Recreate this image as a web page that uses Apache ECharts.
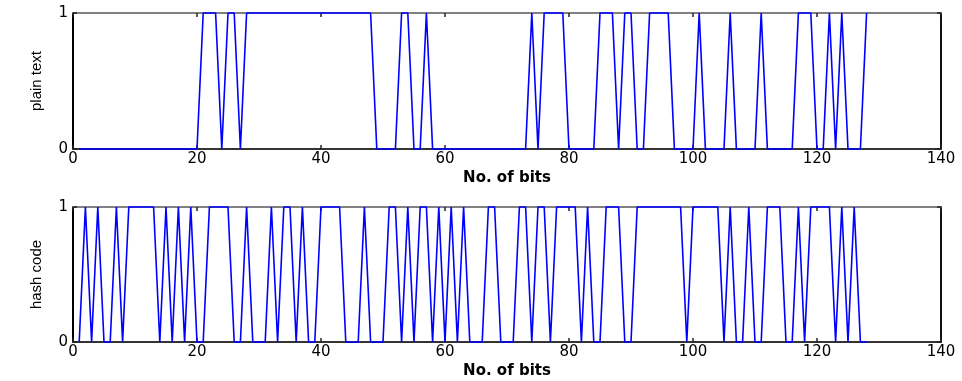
<!DOCTYPE html>
<html>
<head>
<meta charset="utf-8">
<script src="https://cdn.jsdelivr.net/npm/echarts@6/dist/echarts.min.js"></script>
<style>
  html, body { margin: 0; padding: 0; background: #ffffff; }
  #chart { width: 962px; height: 381px; }
</style>
</head>
<body>
<div id="chart"></div>
<script>
// Bit values, index 1..128
const plainTextBits = [
  0,0,0,0,0,0,0,0,
  0,0,0,0,0,0,0,0,
  0,0,0,0,1,1,1,0,
  1,1,0,1,1,1,1,1,
  1,1,1,1,1,1,1,1,
  1,1,1,1,1,1,1,1,
  0,0,0,0,1,1,0,0,
  1,0,0,0,0,0,0,0,
  0,0,0,0,0,0,0,0,
  0,1,0,1,1,1,1,0,
  0,0,0,0,1,1,1,0,
  1,1,0,0,1,1,1,1,
  0,0,0,0,1,0,0,0,
  0,1,0,0,0,0,1,0,
  0,0,0,0,1,1,1,0,
  0,1,0,1,0,0,0,1
];
const hashCodeBits = [
  0,1,0,1,0,0,1,0,
  1,1,1,1,1,0,1,0,
  1,0,1,0,0,1,1,1,
  1,0,0,1,0,0,0,1,
  0,1,1,0,1,0,0,1,
  1,1,1,0,0,0,1,0,
  0,0,1,1,0,1,0,1,
  1,0,1,0,1,0,1,0,
  0,0,1,1,0,0,0,1,
  1,0,1,1,0,1,1,1,
  1,0,1,0,0,1,1,1,
  0,0,1,1,1,1,1,1,
  1,1,0,1,1,1,1,1,
  0,1,0,0,1,0,0,1,
  1,1,0,0,1,0,1,1,
  1,1,0,1,0,1,0,0
];
const xTicks = [0, 20, 40, 60, 80, 100, 120, 140];
const yTicks = [0, 1];
const xLabel = 'No. of bits';
const yLabels = ['plain text', 'hash code'];

const toPairs = arr => arr.map((v, i) => [i + 1, v]);

const tickFont = { fontFamily: 'DejaVu Sans', fontSize: 15, color: '#000' };

function xAxes(gridIndex) {
  return [
    {
      gridIndex, type: 'value', position: 'bottom',
      min: xTicks[0], max: xTicks[xTicks.length - 1], interval: 20,
      axisLine: { onZero: false, lineStyle: { color: '#333', width: 2 } },
      axisTick: { inside: true, length: 4, lineStyle: { color: '#222', width: 1.5 } },
      axisLabel: Object.assign({ margin: 3 }, tickFont),
      splitLine: { show: false },
      name: xLabel, nameLocation: 'middle', nameGap: 22,
      nameTextStyle: { fontFamily: 'DejaVu Sans', fontSize: 15, fontWeight: 'bold', color: '#000', verticalAlign: 'top' }
    },
    {
      gridIndex, type: 'value', position: 'top',
      min: xTicks[0], max: xTicks[xTicks.length - 1], interval: 20,
      axisLine: { onZero: false, lineStyle: { color: '#808080', width: 2 } },
      axisTick: { inside: true, length: 4, lineStyle: { color: '#222', width: 1.5 } },
      axisLabel: { show: false },
      splitLine: { show: false }
    }
  ];
}
function yAxes(gridIndex, name) {
  return [
    {
      gridIndex, type: 'value', position: 'left',
      min: 0, max: 1, interval: 1,
      axisLine: { show: true, onZero: false, lineStyle: { color: '#000', width: 2 } },
      axisTick: { show: true, inside: true, length: 4, lineStyle: { color: '#222', width: 1.5 } },
      axisLabel: Object.assign({ margin: 5 }, tickFont),
      splitLine: { show: false },
      name, nameLocation: 'middle', nameGap: 29, nameRotate: 90,
      nameTextStyle: { fontFamily: 'Liberation Sans', fontSize: 15, color: '#000' }
    },
    {
      gridIndex, type: 'value', position: 'right',
      min: 0, max: 1, interval: 1,
      axisLine: { show: true, onZero: false, lineStyle: { color: '#111', width: 2 } },
      axisTick: { show: true, inside: true, length: 4, lineStyle: { color: '#222', width: 1.5 } },
      axisLabel: { show: false },
      splitLine: { show: false }
    }
  ];
}

const chart = echarts.init(document.getElementById('chart'), null, { renderer: 'canvas' });
chart.setOption({
  animation: false,
  backgroundColor: '#ffffff',
  grid: [
    { left: 73, right: 21, top: 13, height: 136 },
    { left: 73, right: 21, top: 207, height: 135 }
  ],
  xAxis: [...xAxes(0), ...xAxes(1)],
  yAxis: [...yAxes(0, yLabels[0]), ...yAxes(1, yLabels[1])],
  series: [
    {
      type: 'line', xAxisIndex: 0, yAxisIndex: 0,
      data: toPairs(plainTextBits), showSymbol: false, clip: false,
      lineStyle: { color: '#0000ff', width: 1.6 }, z: 5
    },
    {
      type: 'line', xAxisIndex: 2, yAxisIndex: 2,
      data: toPairs(hashCodeBits), showSymbol: false, clip: false,
      lineStyle: { color: '#0000ff', width: 1.6 }, z: 5
    }
  ]
});
</script>
</body>
</html>
